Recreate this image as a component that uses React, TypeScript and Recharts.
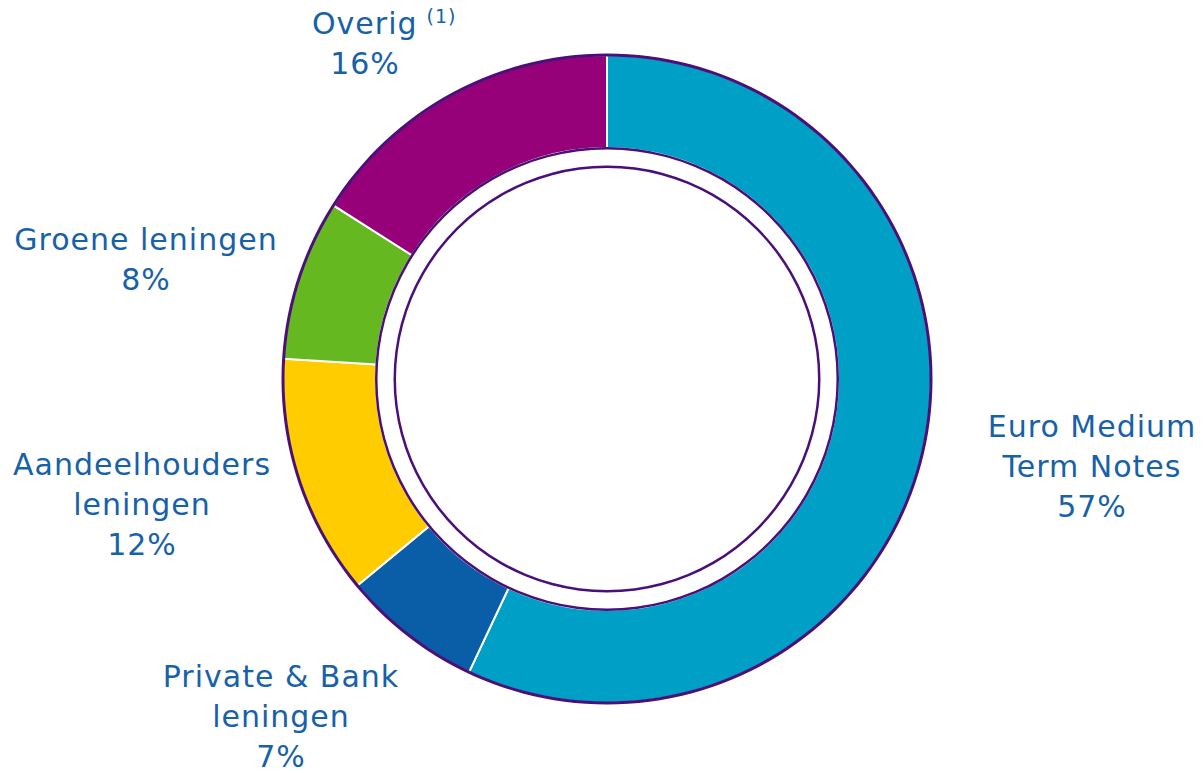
import * as React from "react";
import { PieChart, Pie, Cell } from "recharts";

const CATEGORIES = [
  "Euro Medium|Term Notes",
  "Private & Bank|leningen",
  "Aandeelhouders|leningen",
  "Groene leningen",
  "Overig",
];
const SHARES = [57, 7, 12, 8, 16];
const FOOTNOTES = ["", "", "", "", "(1)"];
const COLORS = ["#00a0c6", "#0a5ea8", "#ffcc00", "#66b821", "#960078"];

const BORDER = "#4a0f78";
const TEXT = "#1761a9";
const LINE_H = 40;

// label anchor (centre x, first baseline y) per slice; startX left-aligns the first line
const LABEL_POS = [
  { x: 1092, y: 437 },
  { x: 281, y: 687 },
  { x: 142, y: 475 },
  { x: 146, y: 250 },
  { x: 365, y: 34, startX: 312 },
];

const data = CATEGORIES.map((name, i) => ({ name, value: SHARES[i] }));
const ring = [{ name: "ring", value: 1 }];

// chart margin of 5px is added by recharts
const CX = 602;
const CY = 374;

function renderLabel(props: any) {
  const i = props.index;
  const pos: any = LABEL_POS[i];
  const lines = [...CATEGORIES[i].split("|"), `${SHARES[i]}%`];
  return (
    <g key={`lbl-${i}`}>
      {lines.map((line, j) => {
        const useStart = j === 0 && pos.startX !== undefined;
        return (
          <text
            key={j}
            x={useStart ? pos.startX : pos.x}
            y={pos.y + j * LINE_H}
            textAnchor={useStart ? "start" : "middle"}
            fill={TEXT}
            fontSize={30}
            letterSpacing={1}
            fontFamily="DejaVu Sans, Verdana, sans-serif"
          >
            {line}
            {j === 0 && FOOTNOTES[i] ? (
              <tspan fontSize={19} dx={9} dy={-11}>
                {FOOTNOTES[i]}
              </tspan>
            ) : null}
          </text>
        );
      })}
    </g>
  );
}

export default function App() {
  return (
    <div style={{ position: "absolute", left: 0, top: 0, background: "#fff" }}>
      <PieChart width={1203} height={773}>
        <Pie
          data={data}
          dataKey="value"
          cx={CX}
          cy={CY}
          startAngle={90}
          endAngle={-270}
          innerRadius={231}
          outerRadius={324}
          stroke="#ffffff"
          strokeWidth={2}
          label={renderLabel}
          labelLine={false}
          isAnimationActive={false}
        >
          {data.map((d, i) => (
            <Cell key={d.name} fill={COLORS[i]} />
          ))}
        </Pie>
        {/* outer edge */}
        <Pie
          data={ring}
          dataKey="value"
          cx={CX}
          cy={CY}
          startAngle={90}
          endAngle={-270}
          innerRadius={322.5}
          outerRadius={325.5}
          fill={BORDER}
          stroke="none"
          isAnimationActive={false}
        />
        {/* inner edge of band */}
        <Pie
          data={ring}
          dataKey="value"
          cx={CX}
          cy={CY}
          startAngle={90}
          endAngle={-270}
          innerRadius={229.5}
          outerRadius={232}
          fill={BORDER}
          stroke="none"
          isAnimationActive={false}
        />
        {/* inner thin circle */}
        <Pie
          data={ring}
          dataKey="value"
          cx={CX}
          cy={CY}
          startAngle={90}
          endAngle={-270}
          innerRadius={211}
          outerRadius={213.5}
          fill={BORDER}
          stroke="none"
          isAnimationActive={false}
        />
      </PieChart>
    </div>
  );
}
